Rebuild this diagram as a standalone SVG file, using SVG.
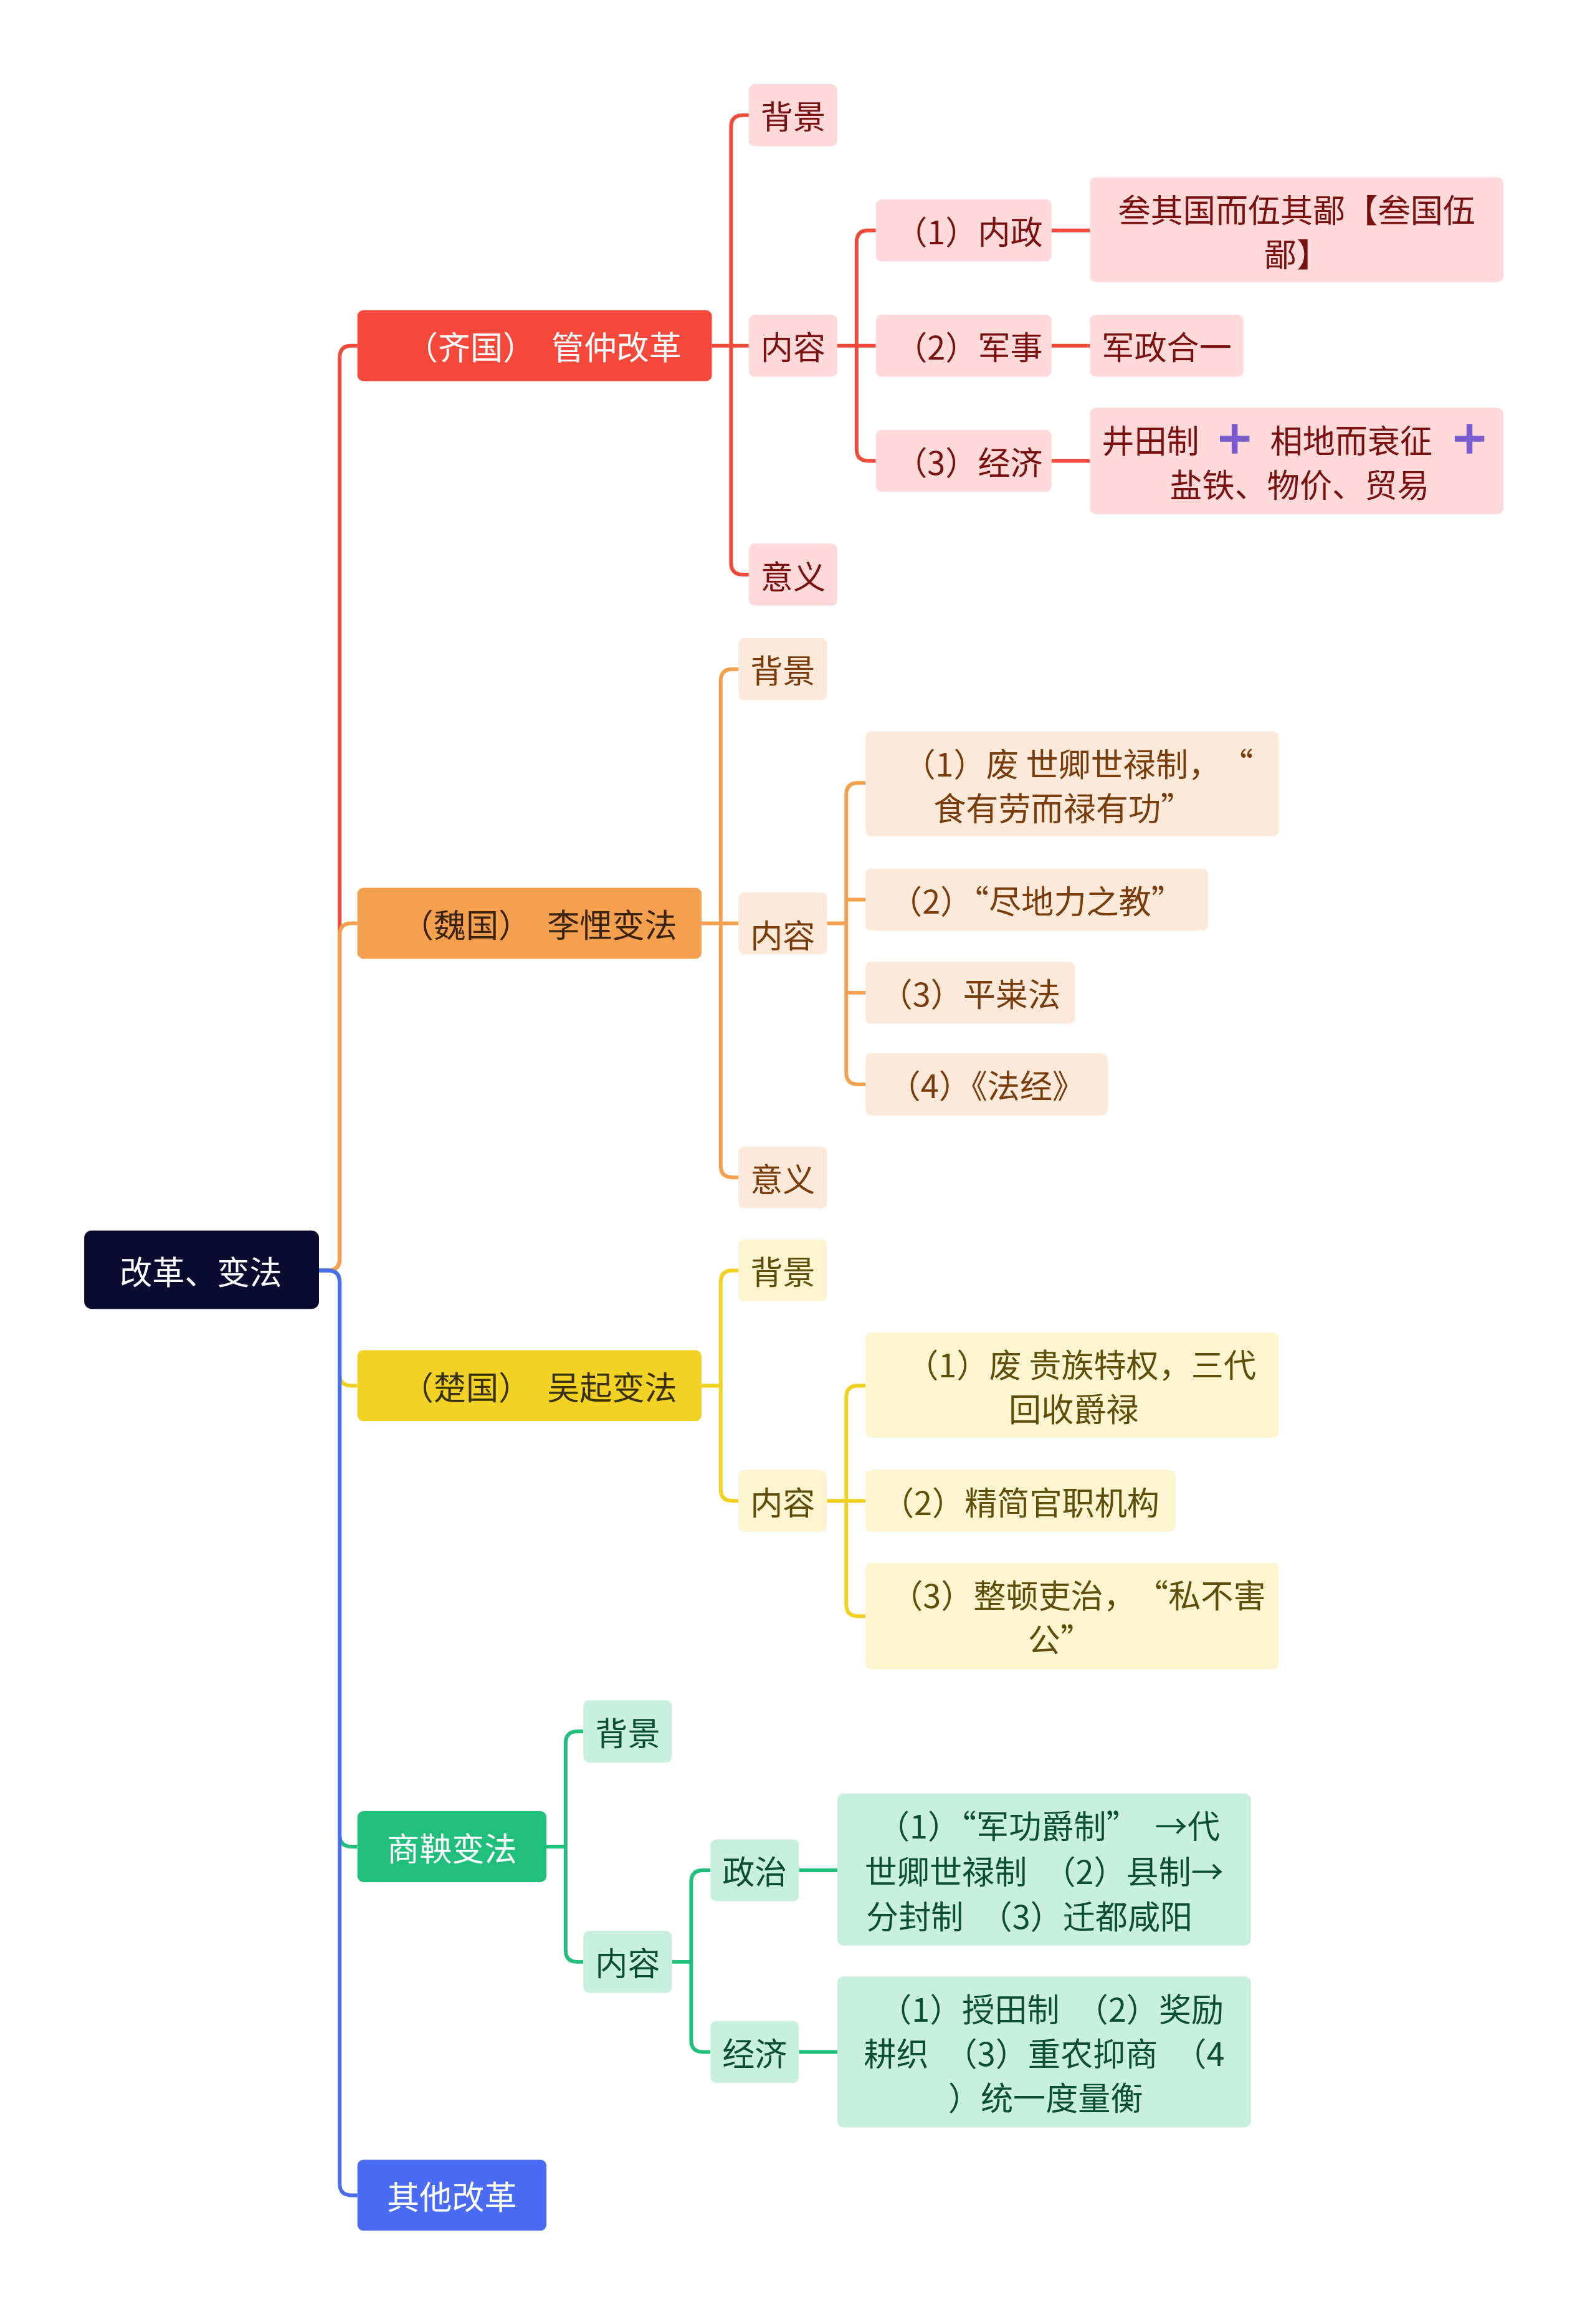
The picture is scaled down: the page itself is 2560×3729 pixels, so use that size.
<svg xmlns="http://www.w3.org/2000/svg" width="2560" height="3729" viewBox="0 0 2560 3729">
<style>
text{font-family:"Noto Sans CJK SC","Noto Sans",sans-serif;font-size:22px;text-anchor:middle;dominant-baseline:central}
.c{fill:none;stroke-width:2.5}
.q1{fill:#fdd9d9}.q2{fill:#fde9da}.q3{fill:#fdf4d0}.q4{fill:#c9f0de}
.t1{fill:#7a1010}.t2{fill:#7a3c0a}.t3{fill:#5e4e08}.t4{fill:#0b4f33}
</style>
<rect width="2560" height="3729" fill="#fff"/>
<g transform="scale(2.3704)">
<g id="connectors">
<path class="c" stroke="#f04a3a" d="M216 860H222Q230 860 230 852V242Q230 234 238 234H242"/>
<path class="c" stroke="#f4a04e" d="M216 860H222Q230 860 230 852V633Q230 625 238 625H242"/>
<path class="c" stroke="#f0d020" d="M216 860H222Q230 860 230 868V930Q230 938 238 938H242"/>
<path class="c" stroke="#20c07c" d="M216 860H222Q230 860 230 868V1242Q230 1250 238 1250H242"/>
<path class="c" stroke="#4a6cf0" d="M216 860H222Q230 860 230 868V1478Q230 1486 238 1486H242"/>
<g stroke="#f04a3a" class="c">
<path d="M482 234H495M495 234V86Q495 78 503 78H507M495 234H507M495 234V381Q495 389 503 389H507"/>
<path d="M567 234H580M580 234V164Q580 156 588 156H593M580 234H593M580 234V304Q580 312 588 312H593"/>
<path d="M712 156H738M712 234H738M712 312H738"/>
</g>
<g stroke="#f4a04e" class="c">
<path d="M475 625H488M488 625V461Q488 453 496 453H500M488 625H500M488 625V789Q488 797 496 797H500"/>
<path d="M560 625H573M573 625V538Q573 530 581 530H586M573 609H586M573 625V726Q573 734 581 734H586M573 672H586"/>
</g>
<g stroke="#f0d020" class="c">
<path d="M475 938H488M488 938V868Q488 860 496 860H500M488 938V1008Q488 1016 496 1016H500"/>
<path d="M560 1016H573M573 1016V946Q573 938 581 938H586M573 1016H586M573 1016V1086Q573 1094 581 1094H586"/>
</g>
<g stroke="#20c07c" class="c">
<path d="M370 1250H383M383 1250V1180Q383 1172 391 1172H395M383 1250V1320Q383 1328 391 1328H395"/>
<path d="M455 1328H468M468 1328V1274Q468 1266 476 1266H481M468 1328V1381Q468 1389 476 1389H481"/>
<path d="M541 1266H567M541 1389H567"/>
</g>
</g>
<g id="root"><rect x="57" y="833" width="159" height="53" rx="5" fill="#0b0b30"/><text x="136" y="860" fill="#fff">改革、变法</text></g>
<g id="qi"><rect x="242" y="210" width="240" height="48" rx="4" fill="#f5483b"/><text x="368" y="234" fill="#fff">（齐国）　管仲改革</text></g>
<g id="wei"><rect x="242" y="601" width="233" height="48" rx="4" fill="#f4a04e"/><text x="365" y="625" fill="#3a2410">（魏国）　李悝变法</text></g>
<g id="chu"><rect x="242" y="914" width="233" height="48" rx="4" fill="#f2d225"/><text x="365" y="938" fill="#3a3008">（楚国）　吴起变法</text></g>
<g id="shang"><rect x="242" y="1226" width="128" height="48" rx="4" fill="#20c07c"/><text x="306" y="1250" fill="#fff">商鞅变法</text></g>
<g id="other"><rect x="242" y="1462" width="128" height="48" rx="4" fill="#4a6cf5"/><text x="306" y="1486" fill="#fff">其他改革</text></g>

<g id="qi-bj"><rect class="q1" x="507" y="57" width="60" height="42" rx="4"/><text class="t1" x="537" y="78">背景</text></g>
<g id="qi-nr"><rect class="q1" x="507" y="213" width="60" height="42" rx="4"/><text class="t1" x="537" y="234">内容</text></g>
<g id="qi-yy"><rect class="q1" x="507" y="368" width="60" height="42" rx="4"/><text class="t1" x="537" y="389">意义</text></g>
<g id="qi-1"><rect class="q1" x="593" y="135" width="119" height="42" rx="4"/><text class="t1" x="656" y="156">（1）内政</text></g>
<g id="qi-2"><rect class="q1" x="593" y="213" width="119" height="42" rx="4"/><text class="t1" x="656" y="234">（2）军事</text></g>
<g id="qi-3"><rect class="q1" x="593" y="291" width="119" height="42" rx="4"/><text class="t1" x="656" y="312">（3）经济</text></g>
<g id="qi-1a"><rect class="q1" x="738" y="120" width="280" height="71" rx="4"/><text class="t1" x="878" y="141">叁其国而伍其鄙【叁国伍</text><text class="t1" x="878" y="171">鄙】</text></g>
<g id="qi-2a"><rect class="q1" x="738" y="213" width="104" height="42" rx="4"/><text class="t1" x="790" y="234">军政合一</text></g>
<g id="qi-3a"><rect class="q1" x="738" y="276" width="280" height="72" rx="4"/>
<text class="t1" x="779" y="297">井田制</text><text class="t1" x="915" y="297">相地而衰征</text><text class="t1" x="880" y="327">盐铁、物价、贸易</text>
<path d="M826 297H846M836 287V307M985 297H1005M995 287V307" stroke="#7a5cd0" stroke-width="4"/></g>

<g id="wei-bj"><rect class="q2" x="500" y="432" width="60" height="42" rx="4"/><text class="t2" x="530" y="453">背景</text></g>
<g id="wei-nr"><rect class="q2" x="500" y="604" width="60" height="42" rx="4"/><text class="t2" x="530" y="632">内容</text></g>
<g id="wei-yy"><rect class="q2" x="500" y="776" width="60" height="42" rx="4"/><text class="t2" x="530" y="797">意义</text></g>
<g id="wei-1"><rect class="q2" x="586" y="495" width="280" height="71" rx="4"/><text class="t2" x="730" y="516">（1）废 世卿世禄制，　“</text><text class="t2" x="720" y="546">食有劳而禄有功”</text></g>
<g id="wei-2"><rect class="q2" x="586" y="588" width="232" height="42" rx="4"/><text class="t2" x="702" y="609">（2）“尽地力之教”</text></g>
<g id="wei-3"><rect class="q2" x="586" y="651" width="142" height="42" rx="4"/><text class="t2" x="657" y="672">（3）平粜法</text></g>
<g id="wei-4"><rect class="q2" x="586" y="713" width="164" height="42" rx="4"/><text class="t2" x="668" y="734">（4）《法经》</text></g>

<g id="chu-bj"><rect class="q3" x="500" y="839" width="60" height="42" rx="4"/><text class="t3" x="530" y="860">背景</text></g>
<g id="chu-nr"><rect class="q3" x="500" y="995" width="60" height="42" rx="4"/><text class="t3" x="530" y="1016">内容</text></g>
<g id="chu-1"><rect class="q3" x="586" y="902" width="280" height="71" rx="4"/><text class="t3" x="732" y="923">（1）废 贵族特权，三代</text><text class="t3" x="727" y="953">回收爵禄</text></g>
<g id="chu-2"><rect class="q3" x="586" y="995" width="210" height="42" rx="4"/><text class="t3" x="691" y="1016">（2）精简官职机构</text></g>
<g id="chu-3"><rect class="q3" x="586" y="1058" width="280" height="72" rx="4"/><text class="t3" x="730" y="1079">（3）整顿吏治，　“私不害</text><text class="t3" x="718" y="1109">公”</text></g>

<g id="sh-bj"><rect class="q4" x="395" y="1151" width="60" height="42" rx="4"/><text class="t4" x="425" y="1172">背景</text></g>
<g id="sh-nr"><rect class="q4" x="395" y="1307" width="60" height="42" rx="4"/><text class="t4" x="425" y="1328">内容</text></g>
<g id="sh-zz"><rect class="q4" x="481" y="1245" width="60" height="42" rx="4"/><text class="t4" x="511" y="1266">政治</text></g>
<g id="sh-jj"><rect class="q4" x="481" y="1368" width="60" height="42" rx="4"/><text class="t4" x="511" y="1389">经济</text></g>
<g id="sh-zz1"><rect class="q4" x="567" y="1214" width="280" height="103" rx="4"/>
<text class="t4" x="710" y="1235">（1）“军功爵制”　→代</text><text class="t4" x="707" y="1266">世卿世禄制　（2）县制→</text><text class="t4" x="697" y="1296">分封制　（3）迁都咸阳</text></g>
<g id="sh-jj1"><rect class="q4" x="567" y="1338" width="280" height="102" rx="4"/>
<text class="t4" x="712" y="1359">（1）授田制　（2）奖励</text><text class="t4" x="707" y="1389">耕织　（3）重农抑商　（4</text><text class="t4" x="708" y="1419">）统一度量衡</text></g>
</g>
</svg>
